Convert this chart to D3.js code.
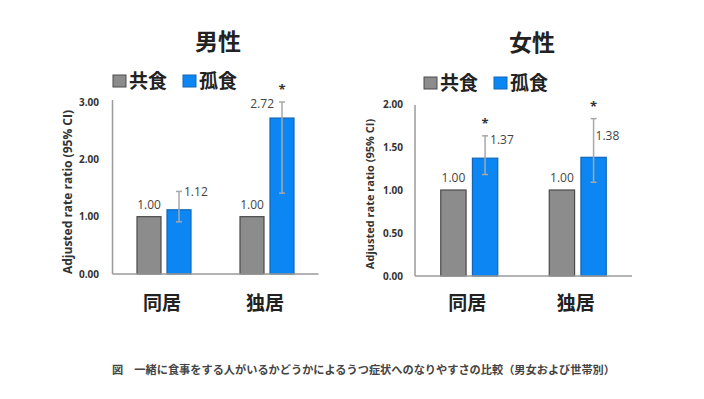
<!DOCTYPE html>
<html lang="ja">
<head>
<meta charset="utf-8">
<title>孤食とうつ症状</title>
<script src="https://cdn.jsdelivr.net/npm/d3@7"></script>
<style>
  body { margin: 0; background: #fff; }
  svg { display: block; }
  text { font-family: "Noto Sans CJK JP", "Noto Sans", sans-serif; }
  .num { font-family: "Open Sans", "Noto Sans", sans-serif; }
</style>
</head>
<body>
<script>
// data
var groups = ["同居", "独居"];
var series = ["共食", "孤食"];

var menShared = [1.00, 1.00];
var menAlone = [1.12, 2.72];
var menAloneLow = [0.91, 1.41];
var menAloneHigh = [1.44, 3.00];
var menStar = [false, true];
var menTicks = [0, 1, 2, 3];

var womenShared = [1.00, 1.00];
var womenAlone = [1.37, 1.38];
var womenAloneLow = [1.18, 1.09];
var womenAloneHigh = [1.63, 1.83];
var womenStar = [true, true];
var womenTicks = [0, 0.5, 1, 1.5, 2];

var caption = "図　一緒に食事をする人がいるかどうかによるうつ症状へのなりやすさの比較（男女および世帯別）";
var yTitle = "Adjusted rate ratio (95% CI)";

var colors = { "共食": "#8c8c8c", "孤食": "#0b86f2" };
var strokes = { "共食": "#4a4a4a", "孤食": "#1266b8" };

var w = 704, h = 399;
var svg = d3.select("body").append("svg").attr("width", w).attr("height", h);

// panel layouts (positions only)
var panels = [
  { title: "男性", shared: menShared, alone: menAlone, low: menAloneLow, high: menAloneHigh, star: menStar,
    ticks: menTicks, yMax: 3, left: 112.5, right: 318.5, top: 102, bottom: 274, axisTop: 100, groupW: 54,
    titleX: 218, titleY: 50, legendX: 113, legendY: 75, tickX: 99, yTitleX: 72, yTitleSize: 12,
    // per group label placement of the 孤食 value: [dx, dy, anchor]
    lab: [[5, 5, "start"], [-8, 6, "end"]] },
  { title: "女性", shared: womenShared, alone: womenAlone, low: womenAloneLow, high: womenAloneHigh, star: womenStar,
    ticks: womenTicks, yMax: 2, left: 415, right: 632, top: 104, bottom: 276, axisTop: 105, groupW: 57,
    titleX: 532, titleY: 51, legendX: 424, legendY: 77, tickX: 403, yTitleX: 374, yTitleSize: 11,
    lab: [[5, 8, "start"], [2, 21, "start"]] }
];

panels.forEach(function(p) {
  var g = svg.append("g");

  var x = d3.scaleBand().domain(groups).range([p.left, p.right]);
  var xi = d3.scaleBand().domain(series)
    .range([x.bandwidth() / 2 - p.groupW / 2, x.bandwidth() / 2 + p.groupW / 2])
    .paddingInner(0.2);
  var y = d3.scaleLinear().domain([0, p.yMax]).range([p.bottom, p.top]);

  // title
  g.append("text").attr("x", p.titleX).attr("y", p.titleY)
    .attr("text-anchor", "middle").attr("font-size", 23).attr("font-weight", "bold")
    .attr("fill", "#222").text(p.title);

  // legend
  series.forEach(function(s, i) {
    var lx = p.legendX + i * 70;
    g.append("rect").attr("x", lx).attr("y", p.legendY).attr("width", 13).attr("height", 12)
      .attr("fill", colors[s]).attr("stroke", strokes[s]).attr("stroke-width", 1);
    g.append("text").attr("x", lx + 16).attr("y", p.legendY + 13)
      .attr("font-size", 19).attr("font-weight", "bold").attr("fill", "#222").text(s);
  });

  // y axis: labels only plus the line
  var yAxis = d3.axisLeft(y).tickValues(p.ticks).tickSize(0).tickPadding(0)
    .tickFormat(d3.format(".2f"));
  var ya = g.append("g").attr("transform", "translate(" + p.tickX + ",0)").call(yAxis);
  ya.select(".domain").remove();
  ya.selectAll("text").attr("class", "num").attr("font-size", 10)
    .attr("font-weight", "bold").attr("fill", "#333");
  g.append("line").attr("x1", p.left).attr("x2", p.left).attr("y1", p.axisTop).attr("y2", p.bottom)
    .attr("stroke", "#9a9a9a").attr("stroke-width", 1.5);

  // y title
  g.append("text").attr("class", "num")
    .attr("transform", "translate(" + p.yTitleX + "," + ((p.top + p.bottom) / 2 + 4) + ") rotate(-90)")
    .attr("text-anchor", "middle").attr("font-size", p.yTitleSize).attr("font-weight", "bold")
    .attr("fill", "#333").text(yTitle);

  // bars
  var rows = groups.map(function(gr, i) {
    return { group: gr, i: i, vals: [
      { s: "共食", v: p.shared[i] },
      { s: "孤食", v: p.alone[i], lo: p.low[i], hi: p.high[i], star: p.star[i] }
    ] };
  });

  var gg = g.selectAll(".grp").data(rows).enter().append("g")
    .attr("transform", function(d) { return "translate(" + x(d.group) + ",0)"; });

  gg.selectAll("rect").data(function(d) { return d.vals; }).enter().append("rect")
    .attr("x", function(d) { return xi(d.s); })
    .attr("y", function(d) { return y(d.v); })
    .attr("width", xi.bandwidth())
    .attr("height", function(d) { return y(0) - y(d.v); })
    .attr("fill", function(d) { return colors[d.s]; })
    .attr("stroke", function(d) { return strokes[d.s]; })
    .attr("stroke-width", 1.2);

  // x axis line
  g.append("line").attr("x1", p.left).attr("x2", p.right).attr("y1", p.bottom).attr("y2", p.bottom)
    .attr("stroke", "#9a9a9a").attr("stroke-width", 1.5);

  // shared value labels
  gg.append("text").attr("class", "num")
    .attr("x", function(d) { return xi("共食") + xi.bandwidth() / 2; })
    .attr("y", function(d) { return y(d.vals[0].v) - 8; })
    .attr("text-anchor", "middle").attr("font-size", 12).attr("fill", "#444")
    .text(function(d) { return d3.format(".2f")(d.vals[0].v); });

  // error bars
  var cx = xi("孤食") + xi.bandwidth() / 2;
  gg.each(function(d) {
    var e = d.vals[1], sel = d3.select(this);
    sel.append("line").attr("x1", cx).attr("x2", cx).attr("y1", y(e.lo)).attr("y2", y(e.hi))
      .attr("stroke", "#a8a8a8").attr("stroke-width", 1.5);
    [e.lo, e.hi].forEach(function(v) {
      sel.append("line").attr("x1", cx - 3).attr("x2", cx + 3).attr("y1", y(v)).attr("y2", y(v))
        .attr("stroke", "#a8a8a8").attr("stroke-width", 1.5);
    });
    var L = p.lab[d.i];
    sel.append("text").attr("class", "num")
      .attr("x", cx + L[0]).attr("y", y(e.hi) + L[1])
      .attr("text-anchor", L[2]).attr("font-size", 12).attr("fill", "#444")
      .text(d3.format(".2f")(e.v));
    if (e.star) {
      sel.append("text").attr("class", "num").attr("x", cx).attr("y", y(e.hi) - 8)
        .attr("text-anchor", "middle").attr("font-size", 13).attr("font-weight", "bold")
        .attr("fill", "#333").text("*");
    }
  });

  // category labels
  g.selectAll(".cat").data(groups).enter().append("text")
    .attr("x", function(d) { return x(d) + x.bandwidth() / 2 - 2; })
    .attr("y", 310).attr("text-anchor", "middle").attr("font-size", 19).attr("font-weight", "bold")
    .attr("fill", "#222").text(function(d) { return d; });
});

// caption
svg.append("text").attr("x", 112).attr("y", 374)
  .attr("font-size", 11).attr("font-weight", "bold").attr("fill", "#444")
  .attr("textLength", 503).attr("lengthAdjust", "spacingAndGlyphs")
  .text(caption);
</script>
</body>
</html>
